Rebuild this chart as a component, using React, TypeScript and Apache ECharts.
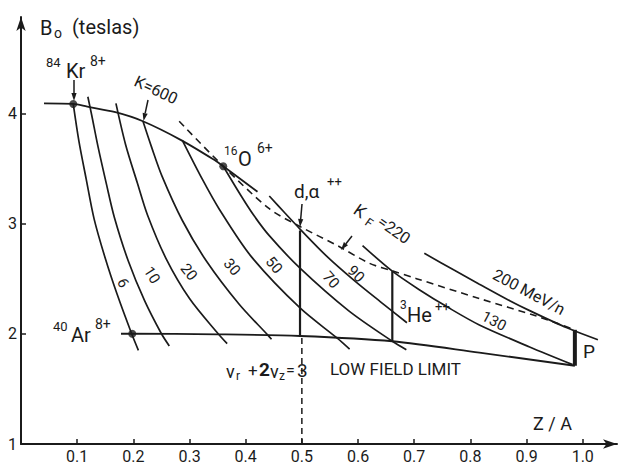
import React, { useEffect, useRef } from 'react';
import * as echarts from 'echarts';

// ---------- data (Z/A, B0 in teslas) ----------
const xTicks = [0.1, 0.2, 0.3, 0.4, 0.5, 0.6, 0.7, 0.8, 0.9, 1.0];
const yTicks = [1, 2, 3, 4];

const limitK600 = [[0.041, 4.09], [0.093, 4.085], [0.118, 4.06], [0.168, 4.01], [0.216, 3.93], [0.285, 3.757], [0.347, 3.568], [0.36, 3.52], [0.421, 3.288]];
const limitKF220 = [[0.2816, 3.928], [0.36, 3.52], [0.442, 3.135], [0.4967, 2.973], [0.567, 2.79], [0.62, 2.64], [0.662, 2.57], [0.704, 2.5], [0.816, 2.32], [0.918, 2.16], [0.986, 2.036]];
const lowFieldLimit = [[0.178, 2.0], [0.198, 2.0], [0.35, 1.995], [0.4967, 1.98], [0.661, 1.932], [0.816, 1.829], [0.986, 1.71]];

const e6 = [[0.093, 4.085], [0.103, 3.75], [0.116, 3.405], [0.13, 3.045], [0.15, 2.685], [0.171, 2.36], [0.197, 2.0], [0.209, 1.85]];
const e10 = [[0.119, 4.15], [0.126, 3.98], [0.137, 3.7], [0.152, 3.36], [0.166, 3.06], [0.191, 2.66], [0.22, 2.3], [0.25, 2.0], [0.264, 1.89]];
const e20 = [[0.169, 4.09], [0.186, 3.72], [0.207, 3.37], [0.225, 3.08], [0.258, 2.685], [0.3, 2.32], [0.351, 2.0], [0.367, 1.91]];
const e30 = [[0.217, 3.93], [0.232, 3.7], [0.251, 3.43], [0.287, 3.03], [0.33, 2.66], [0.388, 2.27], [0.439, 1.99], [0.446, 1.95]];
const e50 = [[0.287, 3.757], [0.323, 3.4], [0.353, 3.13], [0.41, 2.7], [0.4967, 2.234], [0.563, 1.96], [0.585, 1.86]];
const e70 = [[0.36, 3.52], [0.392, 3.25], [0.415, 3.07], [0.442, 2.89], [0.4967, 2.595], [0.583, 2.21], [0.661, 1.932], [0.686, 1.856]];
const e90 = [[0.442, 3.25], [0.469, 3.1], [0.4967, 2.95], [0.545, 2.7], [0.594, 2.48], [0.64, 2.29], [0.687, 2.1]];
const e130 = [[0.608, 2.8], [0.661, 2.568], [0.709, 2.4], [0.76, 2.24], [0.816, 2.08], [0.9055, 1.88], [0.982, 1.72]];
const e200 = [[0.718, 2.73], [0.77, 2.58], [0.816, 2.45], [0.87, 2.3], [0.9055, 2.21], [0.972, 2.054], [1.027, 1.946]];

const dAlphaLine = [[0.4967, 1.98], [0.4967, 2.937]];
const he3Line = [[0.661, 1.932], [0.661, 2.568]];
const protonBar = [[0.986, 1.71], [0.986, 2.036]];
const resonanceLine = [[0.5, 1.0], [0.5, 1.975]];

const ionPoints = [[0.093, 4.085], [0.36, 3.52], [0.198, 2.0]];

const INK = '#1b1b1b';
const FONT = 'Roboto, "DejaVu Sans", sans-serif';

function curve(data: number[][], width = 1.7, extra: any = {}) {
  return {
    type: 'line', data, showSymbol: false, symbol: 'none', silent: true,
    smooth: 0.3,
    lineStyle: { color: INK, width, ...extra },
    z: 2,
  };
}
function straight(data: number[][], width = 2, extra: any = {}) {
  return {
    type: 'line', data, showSymbol: false, symbol: 'none', silent: true, smooth: false,
    lineStyle: { color: INK, width, ...extra }, z: 3,
  };
}

function T(text: string, x: number, y: number, size: number, o: any = {}) {
  return {
    type: 'text', x, y, silent: true,
    rotation: o.rot ? (-o.rot * Math.PI) / 180 : 0,
    style: {
      text, fontSize: size, fontFamily: o.font || FONT, fill: INK,
      align: o.align || 'left', verticalAlign: 'middle',
      fontWeight: o.bold ? 'bold' : 'normal',
    },
  };
}
function arrow(x1: number, y1: number, x2: number, y2: number) {
  const dx = x2 - x1, dy = y2 - y1;
  const L = Math.hypot(dx, dy);
  const ux = dx / L, uy = dy / L;
  const px = -uy, py = ux;
  const bx = x2 - ux * 8, by = y2 - uy * 8;
  return [
    { type: 'line', silent: true, shape: { x1, y1, x2: bx, y2: by }, style: { stroke: INK, lineWidth: 1.5 } },
    { type: 'polygon', silent: true, shape: { points: [[x2, y2], [bx + px * 2.6, by + py * 2.6], [bx - px * 2.6, by - py * 2.6]] }, style: { fill: INK } },
  ];
}

export default function App() {
  const ref = useRef<HTMLDivElement>(null);
  useEffect(() => {
    const chart = echarts.init(ref.current!, null, { renderer: 'svg' });
    const option: any = {
      animation: false,
      backgroundColor: '#ffffff',
      grid: { left: 21, top: 17, width: 596, height: 430 },
      xAxis: {
        type: 'value', min: 0, max: 1.061,
        splitLine: { show: false },
        axisLine: { show: true, lineStyle: { color: INK, width: 2 }, symbol: ['none', 'arrow'], symbolSize: [7, 14] },
        axisTick: { show: true, inside: true, length: 5, lineStyle: { color: INK, width: 1.5 }, customValues: xTicks },
        axisLabel: { show: true, margin: 4, color: INK, fontSize: 16, fontFamily: FONT, customValues: xTicks, formatter: (v: number) => v.toFixed(1) },
      },
      yAxis: {
        type: 'value', min: 1, max: 1 + 430 / 111,
        splitLine: { show: false },
        axisLine: { show: true, lineStyle: { color: INK, width: 2 }, symbol: ['none', 'arrow'], symbolSize: [7, 14] },
        axisTick: { show: true, inside: true, length: 5, lineStyle: { color: INK, width: 1.5 }, customValues: yTicks },
        axisLabel: { show: true, margin: 4, color: INK, fontSize: 16, fontFamily: FONT, customValues: yTicks, formatter: (v: number) => String(v) },
      },
      series: [
        curve(limitK600, 1.8),
        curve(limitKF220, 1.6, { type: [7, 5] }),
        curve(lowFieldLimit, 1.8),
        curve(e6), curve(e10), curve(e20), curve(e30), curve(e50),
        curve(e70), curve(e90), curve(e130), curve(e200),
        straight(dAlphaLine, 2.2),
        straight(he3Line, 2.2),
        straight(protonBar, 4),
        straight(resonanceLine, 1.5, { type: [6, 4] }),
        {
          type: 'scatter', data: ionPoints, symbol: 'circle', symbolSize: 8, silent: true,
          itemStyle: { color: INK }, z: 5,
        },
      ],
      graphic: [
        T('B', 40, 28, 20),
        T('o', 54, 33, 14),
        T('(teslas)', 72, 27, 20),
        T('84', 46, 62, 13),
        T('Kr', 66, 71, 20),
        T('8+', 90, 61, 14),
        ...arrow(74, 80, 74, 101),
        T('K=600', 156, 90, 16, { rot: 25, align: 'center' }),
        ...arrow(148, 100, 143.5, 121),
        T('16', 224, 151, 12),
        T('O', 238, 159, 20),
        T('6+', 257, 148, 14),
        T('d,α', 294, 191, 19),
        T('++', 327, 181, 13),
        ...arrow(302, 204, 300, 227),
        T('K', 360, 211, 17, { rot: 35, align: 'center' }),
        T('F', 369, 223, 12, { rot: 35, align: 'center' }),
        T('=220', 394, 230, 16, { rot: 35, align: 'center' }),
        ...arrow(352, 236, 341, 250),
        T('6', 123, 283, 15, { rot: 65, align: 'center' }),
        T('10', 152, 275, 15, { rot: 58, align: 'center' }),
        T('20', 189, 272, 15, { rot: 52, align: 'center' }),
        T('30', 232, 267, 15, { rot: 50, align: 'center' }),
        T('50', 274, 265, 15, { rot: 50, align: 'center' }),
        T('70', 331, 280, 15, { rot: 48, align: 'center' }),
        T('90', 356, 274, 15, { rot: 45, align: 'center' }),
        T('130', 494, 321, 15, { rot: 28, align: 'center' }),
        T('200 MeV/n', 529, 292, 16, { rot: 28, align: 'center' }),
        T('40', 53, 326, 13),
        T('Ar', 71, 335, 20),
        T('8+', 95, 324, 14),
        T('ν', 226, 371, 18),
        T('r', 236, 376, 12),
        T('+', 248, 370, 17),
        T('2', 259, 369, 19, { bold: true }),
        T('ν', 270, 371, 18),
        T('z', 279, 376, 12),
        T('=', 286, 370, 16),
        T('3', 297, 370, 19),
        T('LOW FIELD LIMIT', 330, 369, 17),
        T('3', 400, 305, 12),
        T('He', 407, 315, 20),
        T('++', 435, 306, 13),
        T('P', 583, 351, 19),
        T('Z / A', 533, 423, 18),
      ],
    };
    chart.setOption(option);
    return () => chart.dispose();
  }, []);
  return <div ref={ref} style={{ position: 'absolute', left: 0, top: 0, width: 625, height: 464, background: '#fff' }} />;
}
